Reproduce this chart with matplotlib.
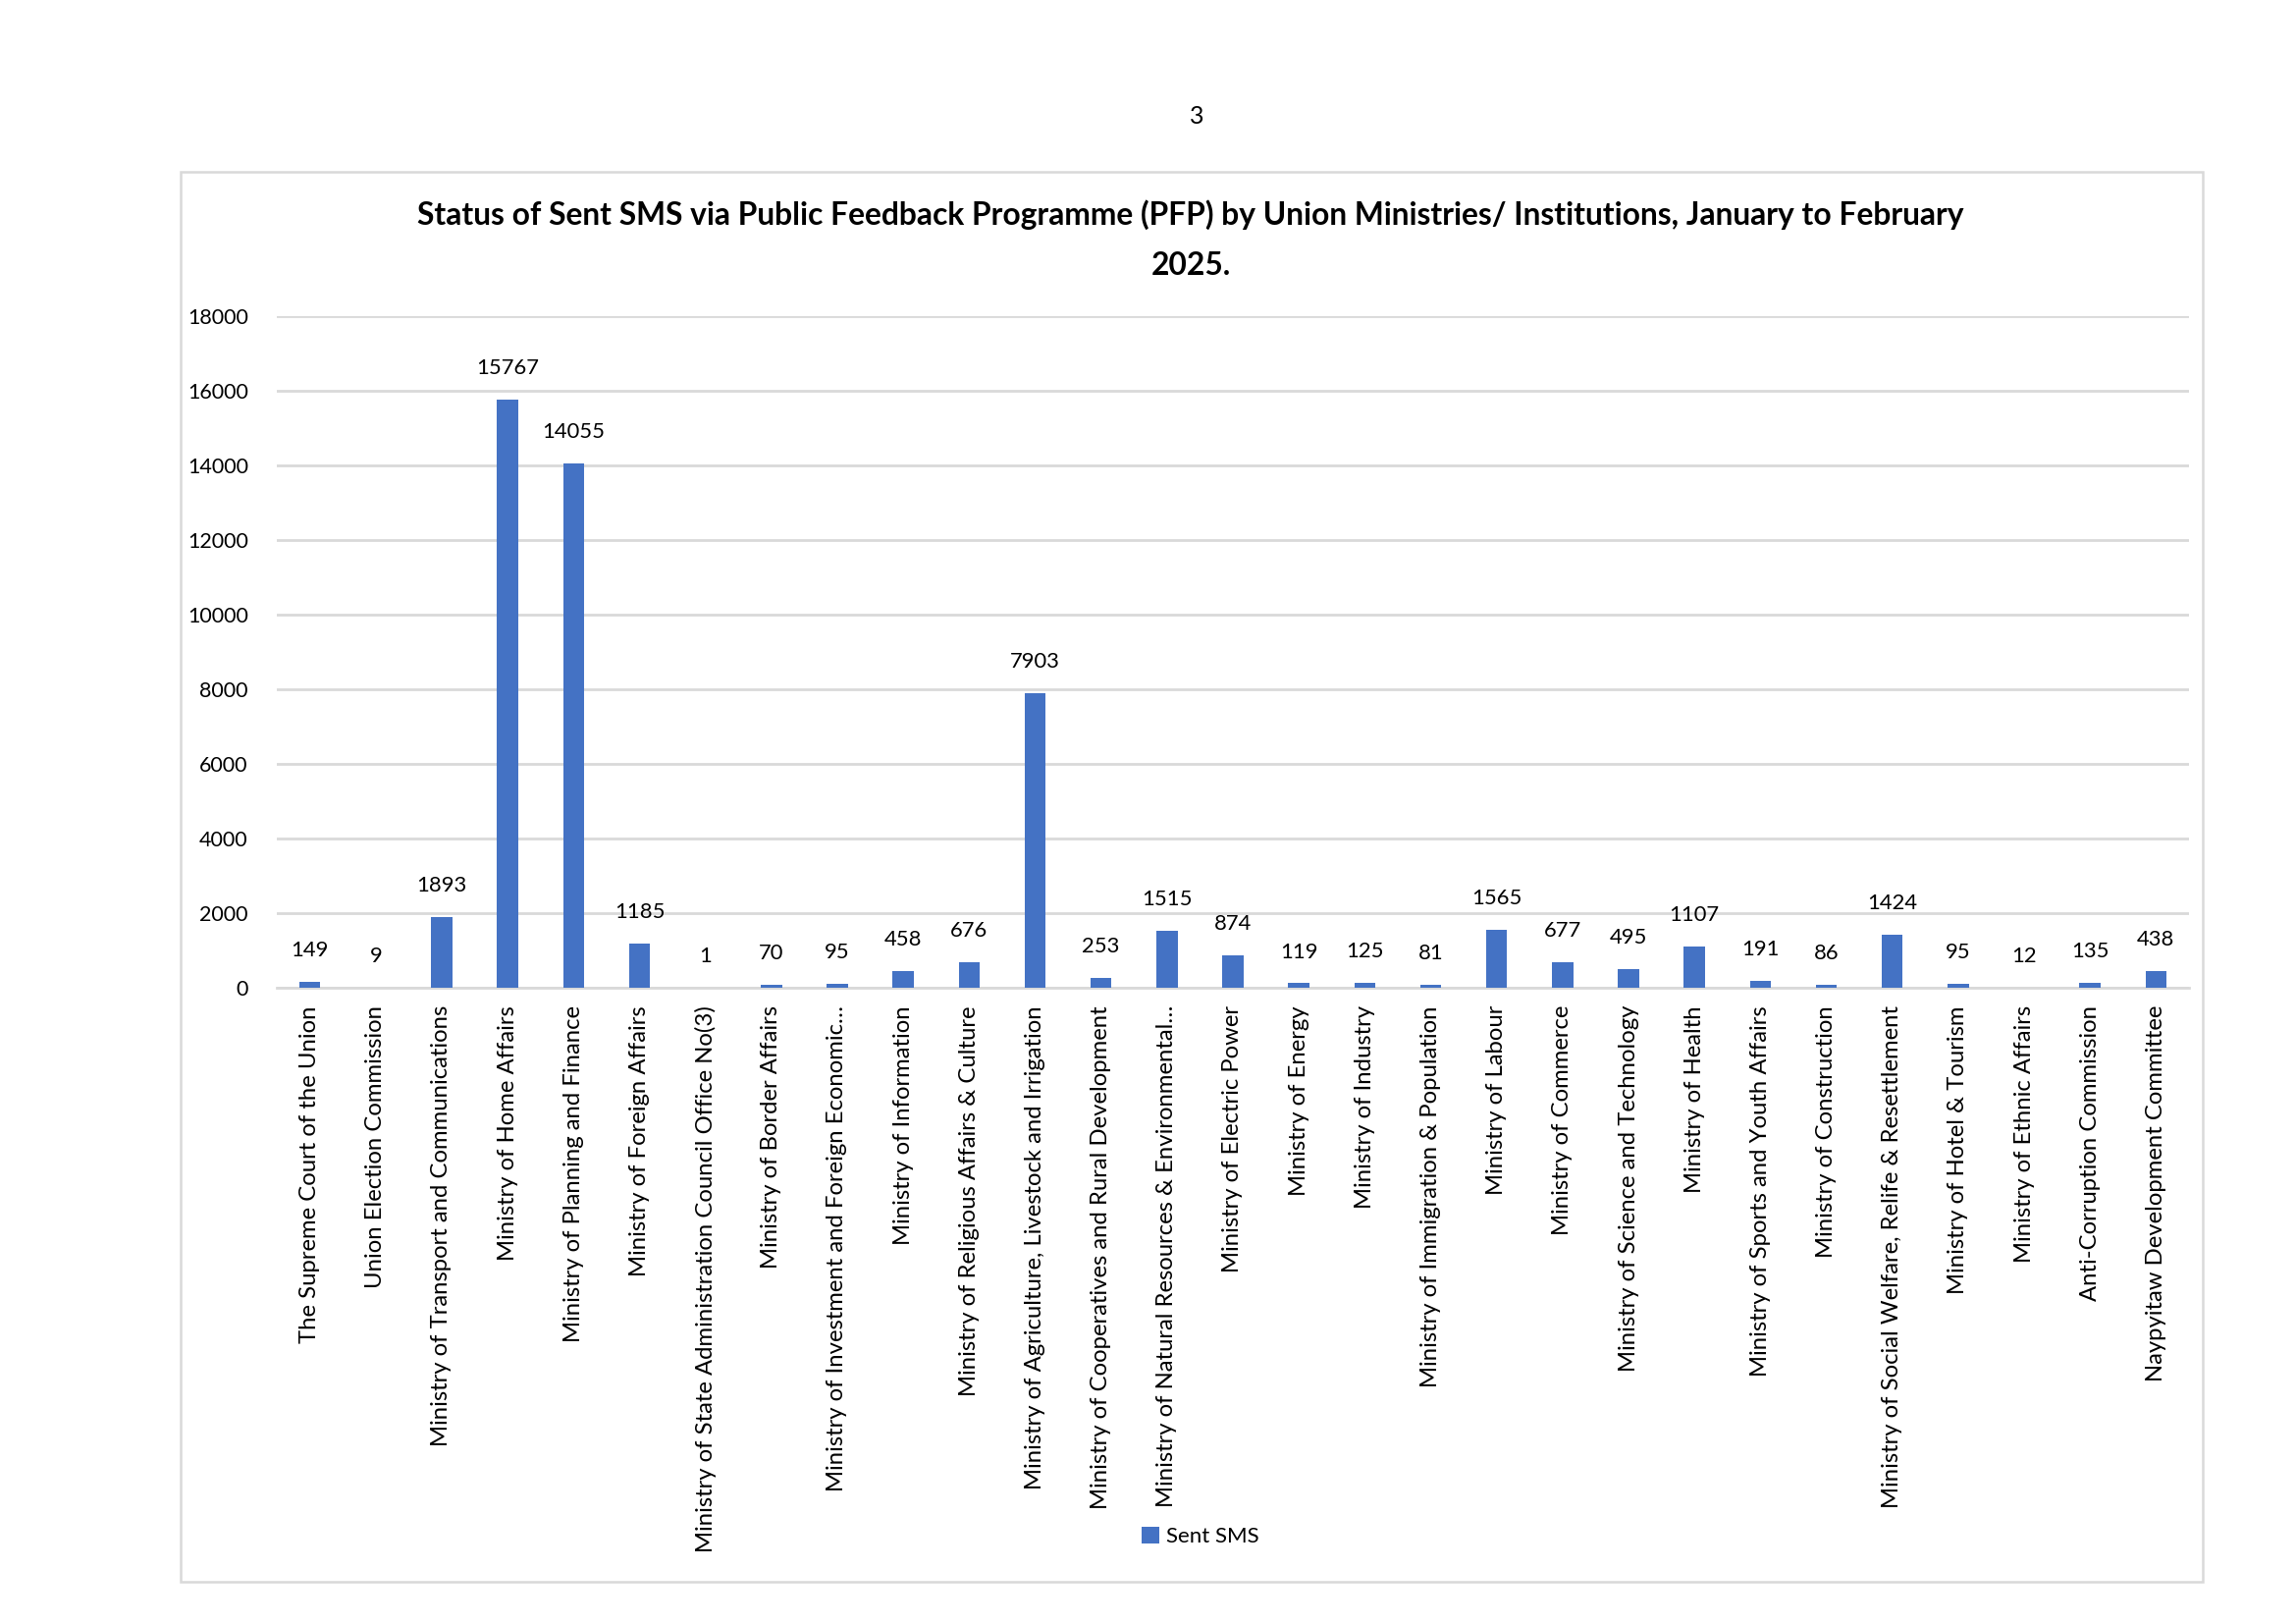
import matplotlib
matplotlib.use("Agg")
import matplotlib.pyplot as plt
from matplotlib.patches import Rectangle

# data
ministries = [
    "The Supreme Court of the Union",
    "Union Election Commission",
    "Ministry of Transport and Communications",
    "Ministry of Home Affairs",
    "Ministry of Planning and Finance",
    "Ministry of Foreign Affairs",
    "Ministry of State Administration Council Office No(3)",
    "Ministry of Border Affairs",
    "Ministry of Investment and Foreign Economic…",
    "Ministry of Information",
    "Ministry of Religious Affairs & Culture",
    "Ministry of Agriculture, Livestock and Irrigation",
    "Ministry of Cooperatives and Rural Development",
    "Ministry of Natural Resources & Environmental…",
    "Ministry of Electric Power",
    "Ministry of Energy",
    "Ministry of Industry",
    "Ministry of Immigration & Population",
    "Ministry of Labour",
    "Ministry of Commerce",
    "Ministry of Science and Technology",
    "Ministry of Health",
    "Ministry of Sports and Youth Affairs",
    "Ministry of Construction",
    "Ministry of Social Welfare, Relife & Resettlement",
    "Ministry of Hotel & Tourism",
    "Ministry of Ethnic Affairs",
    "Anti-Corruption Commission",
    "Naypyitaw Development Committee",
]
sent_sms = [149, 9, 1893, 15767, 14055, 1185, 1, 70, 95, 458, 676, 7903, 253,
            1515, 874, 119, 125, 81, 1565, 677, 495, 1107, 191, 86, 1424, 95,
            12, 135, 438]
y_ticks = [0, 2000, 4000, 6000, 8000, 10000, 12000, 14000, 16000, 18000]

plt.rcParams['font.family'] = ['Lato', 'DejaVu Sans']
blue = "#4472C4"
grey = "#D9D9D9"

fig = plt.figure(figsize=(23.39, 16.54), dpi=100)
W, H = 2339, 1654

# chart frame
fig.patches.append(Rectangle((184 / W, 1 - 1611 / H), (2244 - 184) / W, (1611 - 175) / H,
                             transform=fig.transFigure, fill=False, edgecolor=grey, lw=1.8))

# page number
fig.text(1219 / W, 1 - 118 / H, "3", ha="center", va="center", fontsize=18)

ax = fig.add_axes([282 / W, 1 - 1006 / H, (2230 - 282) / W, (1006 - 322) / H])
x = list(range(len(ministries)))
bars = ax.bar(x, sent_sms, width=0.32, color=blue, zorder=3, label="Sent SMS")

for xi, v in zip(x, sent_sms):
    ax.annotate(str(v), (xi, v), xytext=(0, 23), textcoords="offset points",
                ha="center", va="center", fontsize=15.8)

ax.set_xlim(-0.5, len(ministries) - 0.5)
ax.set_ylim(0, 18000)
ax.set_yticks(y_ticks)
ax.set_yticklabels([str(t) for t in y_ticks], fontsize=15.5)
ax.set_xticks(x)
ax.set_xticklabels(ministries, rotation=90, fontsize=17.2)
ax.tick_params(axis="both", length=0)
ax.tick_params(axis="y", pad=21)
ax.tick_params(axis="x", pad=13)
ax.grid(axis="y", color=grey, lw=2, zorder=0)
for s in ["top", "right", "left"]:
    ax.spines[s].set_visible(False)
ax.spines["bottom"].set_color(grey)
ax.spines["bottom"].set_linewidth(2)

fig.text(1213 / W, 1 - 219 / H,
         "Status of Sent SMS via Public Feedback Programme (PFP) by Union Ministries/ Institutions, January to February",
         ha="center", va="center", fontsize=22.9, fontweight="bold")
fig.text(1213 / W, 1 - 270 / H, "2025.", ha="center", va="center", fontsize=22.9, fontweight="bold")

fig.legend(handles=[bars], labels=["Sent SMS"], loc="center", bbox_to_anchor=(1223 / W, 1 - 1565 / H),
           frameon=False, prop={"size": 16}, handlelength=0.8, handleheight=0.8,
           handletextpad=0.35)

fig.savefig("out.png", dpi=100)
